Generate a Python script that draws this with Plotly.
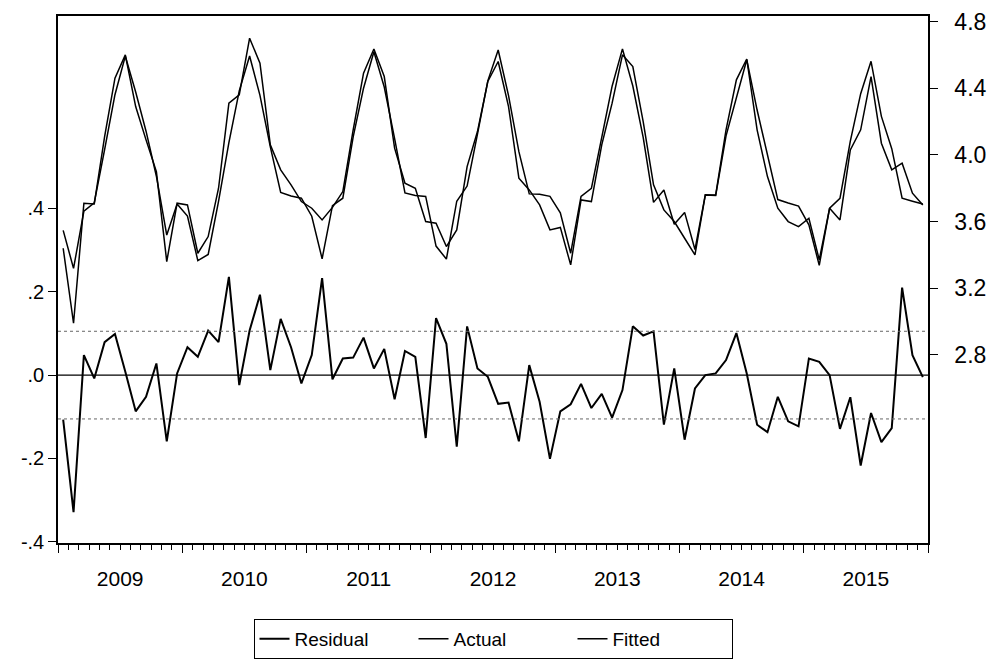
import numpy as np
import plotly.graph_objects as go

# Monthly observations, 2009M01 - 2015M12
years = ["2009", "2010", "2011", "2012", "2013", "2014", "2015"]
months_per_year = 12

residual = [
    -0.107, -0.329, 0.048, -0.008, 0.079, 0.099, 0.008, -0.087, -0.052, 0.028, -0.159, 0.004,
    0.067, 0.044, 0.107, 0.079, 0.236, -0.024, 0.107, 0.193, 0.012, 0.135, 0.067, -0.020,
    0.048, 0.233, -0.010, 0.040, 0.042, 0.090, 0.016, 0.063, -0.058, 0.058, 0.044, -0.151,
    0.137, 0.075, -0.172, 0.117, 0.016, -0.004, -0.069, -0.066, -0.159, 0.024, -0.064, -0.201,
    -0.087, -0.070, -0.021, -0.079, -0.045, -0.102, -0.036, 0.117, 0.095, 0.105, -0.119, 0.016,
    -0.155, -0.032, 0.000, 0.004, 0.036, 0.101, 0.004, -0.119, -0.137, -0.052, -0.111, -0.123,
    0.040, 0.032, 0.000, -0.129, -0.053, -0.217, -0.091, -0.161, -0.127, 0.210, 0.048, -0.005,
]

actual = [
    3.440, 2.990, 3.710, 3.705, 4.110, 4.460, 4.600, 4.290, 4.090, 3.900, 3.360, 3.710,
    3.700, 3.410, 3.510, 3.800, 4.310, 4.360, 4.700, 4.550, 4.060, 3.910, 3.820, 3.720,
    3.680, 3.610, 3.685, 3.780, 4.150, 4.490, 4.635, 4.470, 4.040, 3.830, 3.800, 3.600,
    3.590, 3.450, 3.550, 3.930, 4.140, 4.440, 4.560, 4.290, 3.860, 3.790, 3.700, 3.550,
    3.565, 3.340, 3.730, 3.720, 4.060, 4.310, 4.600, 4.530, 4.200, 3.820, 3.670, 3.600,
    3.500, 3.400, 3.760, 3.760, 4.150, 4.450, 4.575, 4.150, 3.870, 3.680, 3.600, 3.570,
    3.620, 3.370, 3.680, 3.610, 4.030, 4.150, 4.470, 4.070, 3.910, 3.950, 3.770, 3.700,
]

fitted = [
    3.547, 3.319, 3.662, 3.713, 4.031, 4.361, 4.592, 4.377, 4.142, 3.872, 3.519, 3.706,
    3.633, 3.366, 3.403, 3.721, 4.074, 4.384, 4.593, 4.357, 4.048, 3.775, 3.753, 3.740,
    3.632, 3.377, 3.695, 3.740, 4.108, 4.400, 4.619, 4.407, 4.098, 3.772, 3.756, 3.751,
    3.453, 3.375, 3.722, 3.813, 4.124, 4.444, 4.629, 4.356, 4.019, 3.766, 3.764, 3.751,
    3.652, 3.410, 3.751, 3.799, 4.105, 4.412, 4.636, 4.413, 4.105, 3.715, 3.789, 3.584,
    3.655, 3.432, 3.760, 3.756, 4.114, 4.349, 4.571, 4.269, 4.007, 3.732, 3.711, 3.693,
    3.580, 3.338, 3.680, 3.739, 4.083, 4.367, 4.561, 4.231, 4.037, 3.740, 3.722, 3.705,
]

left_ticks = [-0.4, -0.2, 0.0, 0.2, 0.4]
left_labels = ["-.4", "-.2", ".0", ".2", ".4"]
right_ticks = [2.8, 3.2, 3.6, 4.0, 4.4, 4.8]
right_labels = ["2.8", "3.2", "3.6", "4.0", "4.4", "4.8"]

n = len(residual)
obs = list(range(n))
x_lo, x_hi = -0.5, n - 0.5
sigma = float(np.std(residual, ddof=1))

year_bounds = [x_lo + k * months_per_year for k in range(len(years) + 1)]
year_centers = [x_lo + (k + 0.5) * months_per_year for k in range(len(years))]

FONT = "Arial, 'Liberation Sans', sans-serif"
INK = "black"

fig = go.Figure()

# zero line and +/- one standard error band for the residuals
fig.add_trace(go.Scatter(x=[x_lo, x_hi], y=[0, 0], mode="lines", xaxis="x2", yaxis="y",
                         line=dict(color=INK, width=1.3), showlegend=False, hoverinfo="skip"))
for s in (sigma, -sigma):
    fig.add_trace(go.Scatter(x=[x_lo, x_hi], y=[s, s], mode="lines", xaxis="x2", yaxis="y",
                             line=dict(color="#666666", width=1, dash="dot"),
                             showlegend=False, hoverinfo="skip"))

fig.add_trace(go.Scatter(x=obs, y=residual, name="Residual", mode="lines",
                         line=dict(color=INK, width=2)))
fig.add_trace(go.Scatter(x=obs, y=actual, name="Actual", mode="lines", yaxis="y2",
                         line=dict(color=INK, width=1.5)))
fig.add_trace(go.Scatter(x=obs, y=fitted, name="Fitted", mode="lines", yaxis="y2",
                         line=dict(color=INK, width=1.5)))

fig.update_layout(
    width=989, height=659,
    margin=dict(l=58, r=61, t=16, b=116, autoexpand=False),
    paper_bgcolor="white", plot_bgcolor="white",
    font=dict(family=FONT, size=20, color=INK),
    showlegend=True,
    legend=dict(orientation="h", x=0.5, xanchor="center", y=-0.144, yanchor="top",
                bordercolor=INK, borderwidth=1, font=dict(size=19, family=FONT),
                entrywidth=114, entrywidthmode="pixels", tracegroupgap=0),
    xaxis=dict(
        range=[x_lo, x_hi], showgrid=False, zeroline=False, automargin=False,
        showline=True, linecolor=INK, linewidth=1.5, mirror=True,
        tickmode="array", tickvals=year_centers, ticktext=years,
        ticks="", ticklabelstandoff=16, tickfont=dict(size=21),
        minor=dict(tick0=x_lo, dtick=1, ticks="outside", ticklen=5,
                   tickcolor=INK, tickwidth=1, showgrid=False),
    ),
    xaxis2=dict(
        overlaying="x", anchor="y", side="bottom", range=[x_lo, x_hi],
        showgrid=False, zeroline=False, showline=False, automargin=False,
        tickmode="array", tickvals=year_bounds, ticks="outside", ticklen=9,
        tickwidth=1.3, tickcolor=INK, showticklabels=False,
    ),
    yaxis=dict(
        range=[-0.403, 0.862], showgrid=False, zeroline=False, automargin=False,
        showline=True, linecolor=INK, linewidth=1.5,
        tickmode="array", tickvals=left_ticks, ticktext=left_labels,
        ticks="outside", ticklen=8, tickcolor=INK, tickfont=dict(size=20),
    ),
    yaxis2=dict(
        overlaying="y", side="right", range=[1.672, 4.833], automargin=False,
        showgrid=False, zeroline=False,
        showline=True, linecolor=INK, linewidth=1.5,
        tickmode="array", tickvals=right_ticks, ticktext=right_labels,
        ticks="outside", ticklen=8, tickcolor=INK, tickfont=dict(size=23),
        ticklabelstandoff=12,
    ),
)

fig.write_html("out.html")
